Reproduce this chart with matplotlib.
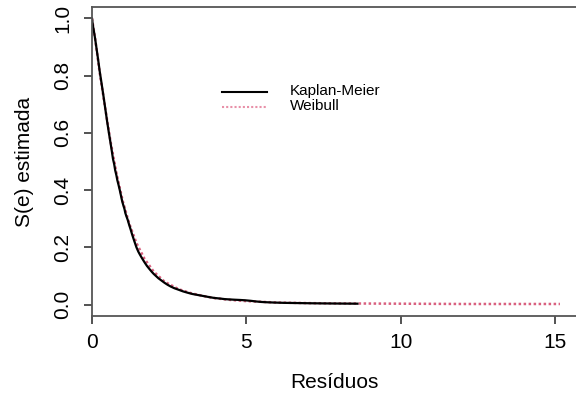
import matplotlib
matplotlib.use("Agg")
import matplotlib.pyplot as plt
from matplotlib.lines import Line2D

plt.rcParams['font.family'] = ['Liberation Sans', 'DejaVu Sans']

# Kaplan-Meier estimate (many small steps -> drawn as a fine line)
km_time = [0, 0.03, 0.07, 0.1, 0.14, 0.2, 0.25, 0.3, 0.37, 0.43,
           0.49, 0.54, 0.6, 0.64, 0.68, 0.72, 0.75, 0.79, 0.82, 0.86,
           0.90, 0.94, 0.98, 1.02, 1.05, 1.08, 1.11, 1.16, 1.2, 1.25, 1.3, 1.37, 1.44,
           1.5, 1.55, 1.62, 1.7, 1.78, 1.87, 1.94, 2.0, 2.08, 2.15, 2.25, 2.35, 2.45,
           2.55, 2.67, 2.8, 2.95, 3.11, 3.25, 3.4, 3.55, 3.7, 3.85, 3.97, 4.15, 4.3,
           4.45, 4.6, 4.8, 4.95, 5.15, 5.3, 5.5, 5.67, 5.9, 6.2, 6.5, 6.8, 7.1, 7.5,
           8.0, 8.6]
km_surv = [1.0, 0.975, 0.95, 0.93, 0.90, 0.855, 0.815, 0.78, 0.73, 0.685,
           0.64, 0.605, 0.565, 0.538, 0.509, 0.49, 0.47, 0.452,
           0.435, 0.418, 0.40, 0.38, 0.36, 0.345, 0.335, 0.32, 0.31, 0.295, 0.28, 0.263,
           0.245, 0.222, 0.20, 0.185, 0.175, 0.162, 0.148, 0.135, 0.123, 0.114, 0.107,
           0.099, 0.092, 0.084, 0.076, 0.069, 0.063, 0.057, 0.052, 0.046, 0.041, 0.037,
           0.034, 0.031, 0.028, 0.025, 0.023, 0.021, 0.019, 0.018, 0.017, 0.016, 0.015,
           0.013, 0.011, 0.009, 0.008, 0.007, 0.006, 0.0055, 0.005, 0.0045, 0.004,
           0.0035, 0.003]

# Weibull fitted survival
wb_time = [0, 0.1, 0.25, 0.43, 0.6, 0.8, 1.0, 1.2, 1.44, 1.7, 2.0, 2.35, 2.8, 3.2, 3.6,
           4.0, 4.5, 5.0, 6.0, 7.0, 8.0, 10.0, 12.0, 15.16]
wb_surv = [1.0, 0.93, 0.81, 0.685, 0.57, 0.455, 0.36, 0.285, 0.215, 0.16, 0.115, 0.08,
           0.054, 0.04, 0.03, 0.022, 0.016, 0.012, 0.007, 0.005, 0.004, 0.003, 0.002, 0.002]

x_ticks = [0, 5, 10, 15]
y_ticks = [0.0, 0.2, 0.4, 0.6, 0.8, 1.0]
y_ticklabels = ["0.0", "0.2", "0.4", "0.6", "0.8", "1.0"]
legend_labels = ["Kaplan-Meier", "Weibull"]

W, H = 576, 397
fig = plt.figure(figsize=(W / 100, H / 100), dpi=100)
left, right, top, bottom = 92, 576, 7, 316
ax = fig.add_axes([left / W, (H - bottom) / H, (right - left) / W, (bottom - top) / H])

pink = '#d9607f'
ax.plot(wb_time, wb_surv, color=pink, lw=1.8, ls=(0, (1, 1)))
ax.plot(km_time, km_surv, color='black', lw=1.6)

ax.set_xlim(0, 15.68)
ax.set_ylim(-0.04, 1.04)
ax.set_xticks(x_ticks)
ax.set_xticklabels([str(t) for t in x_ticks])
ax.set_yticks(y_ticks)
ax.set_yticklabels(y_ticklabels, rotation=90, va='center')

for s in ['left', 'top', 'bottom']:
    ax.spines[s].set_color('#555555')
    ax.spines[s].set_linewidth(1.3)
ax.spines['right'].set_visible(False)
ax.tick_params(axis='both', direction='out', length=6, width=1.3, color='#444444',
               labelsize=15, pad=6)
ax.tick_params(axis='y', pad=8)

ax.set_xlabel("Resíduos", fontsize=15)
ax.set_ylabel("S(e) estimada", fontsize=15)
ax.xaxis.set_label_coords((334 - left) / (right - left), (bottom - 382) / (bottom - top))
ax.yaxis.set_label_coords((24 - left) / (right - left), 0.5)
ax.xaxis.label.set_va('center')
ax.yaxis.label.set_va('center')

# legend drawn manually
def fy(py):
    return (H - py) / H

fig.add_artist(Line2D([222 / W, 267 / W], [fy(91.5), fy(91.5)], color='black', lw=1.5))
fig.add_artist(Line2D([222 / W, 267 / W], [fy(107), fy(107)], color='#e890a8', lw=1.5,
                      ls=(0, (1, 1))))
fig.text(290 / W, fy(91.5), legend_labels[0], fontsize=11, va='center', ha='left')
fig.text(290 / W, fy(105.5), legend_labels[1], fontsize=11, va='center', ha='left')

fig.savefig("out.png", dpi=100)
